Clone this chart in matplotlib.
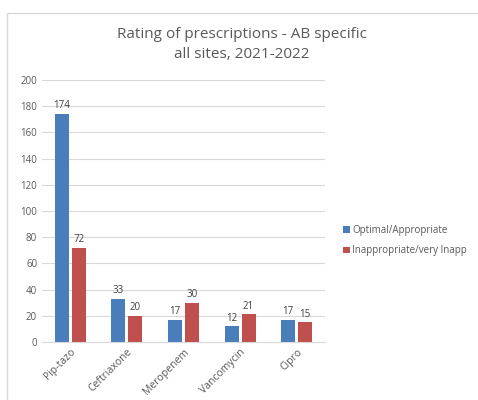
import matplotlib.pyplot as plt
import matplotlib.patches as mpatches
import numpy as np

drugs = ["Pip-tazo", "Ceftriaxone", "Meropenem", "Vancomycin", "Cipro"]
optimal = [174, 33, 17, 12, 17]
inappropriate = [72, 20, 30, 21, 15]

blue = "#4a7ebb"
red = "#c0504d"

plt.rcParams['font.family'] = ['Open Sans', 'DejaVu Sans']

fig = plt.figure(figsize=(4.78, 4.0), dpi=100)
fig.patches.append(mpatches.Rectangle((7/478, -0.01), 1.0, 1 - 13/400 + 0.01,
                                      transform=fig.transFigure, fill=False,
                                      edgecolor="#d9d9d9", linewidth=1))

ax = fig.add_axes([42/478, 1 - 342/400, 283/478, 262/400])
x = np.arange(len(drugs))
w = 0.25
b1 = ax.bar(x - w/2 - 0.025, optimal, w, color=blue, label="Optimal/Appropriate")
b2 = ax.bar(x + w/2 + 0.025, inappropriate, w, color=red, label="Inappropriate/very Inapp")
for bars in (b1, b2):
    ax.bar_label(bars, padding=2, fontsize=7, color="#404040")

ax.set_xlim(-0.5, len(drugs) - 0.5)
ax.set_ylim(0, 200)
ax.set_yticks(range(0, 201, 20))
ax.yaxis.grid(True, color="#d9d9d9", linewidth=0.8)
ax.set_axisbelow(True)
for s in ["top", "right", "left"]:
    ax.spines[s].set_visible(False)
ax.spines["bottom"].set_color("#d9d9d9")
ax.tick_params(axis="both", length=0, labelsize=7, colors="#595959")
ax.tick_params(axis="x", labelsize=7.5)
ax.set_xticks(x)
ax.set_xticklabels(drugs, rotation=45, ha="right", rotation_mode="anchor")

fig.text(242/478, 1 - 35/400, "Rating of prescriptions - AB specific", ha="center",
         va="center", fontsize=11, color="#595959")
fig.text(242/478, 1 - 55/400, "all sites, 2021-2022", ha="center",
         va="center", fontsize=11, color="#595959")

fig.legend(handles=[b1, b2], loc="upper left", bbox_to_anchor=(334/478, 1 - 216/400),
           frameon=False, fontsize=7, handlelength=0.7, handleheight=0.7,
           handletextpad=0.3, labelspacing=1.0, labelcolor="#595959")

fig.savefig("out.png", dpi=100)
